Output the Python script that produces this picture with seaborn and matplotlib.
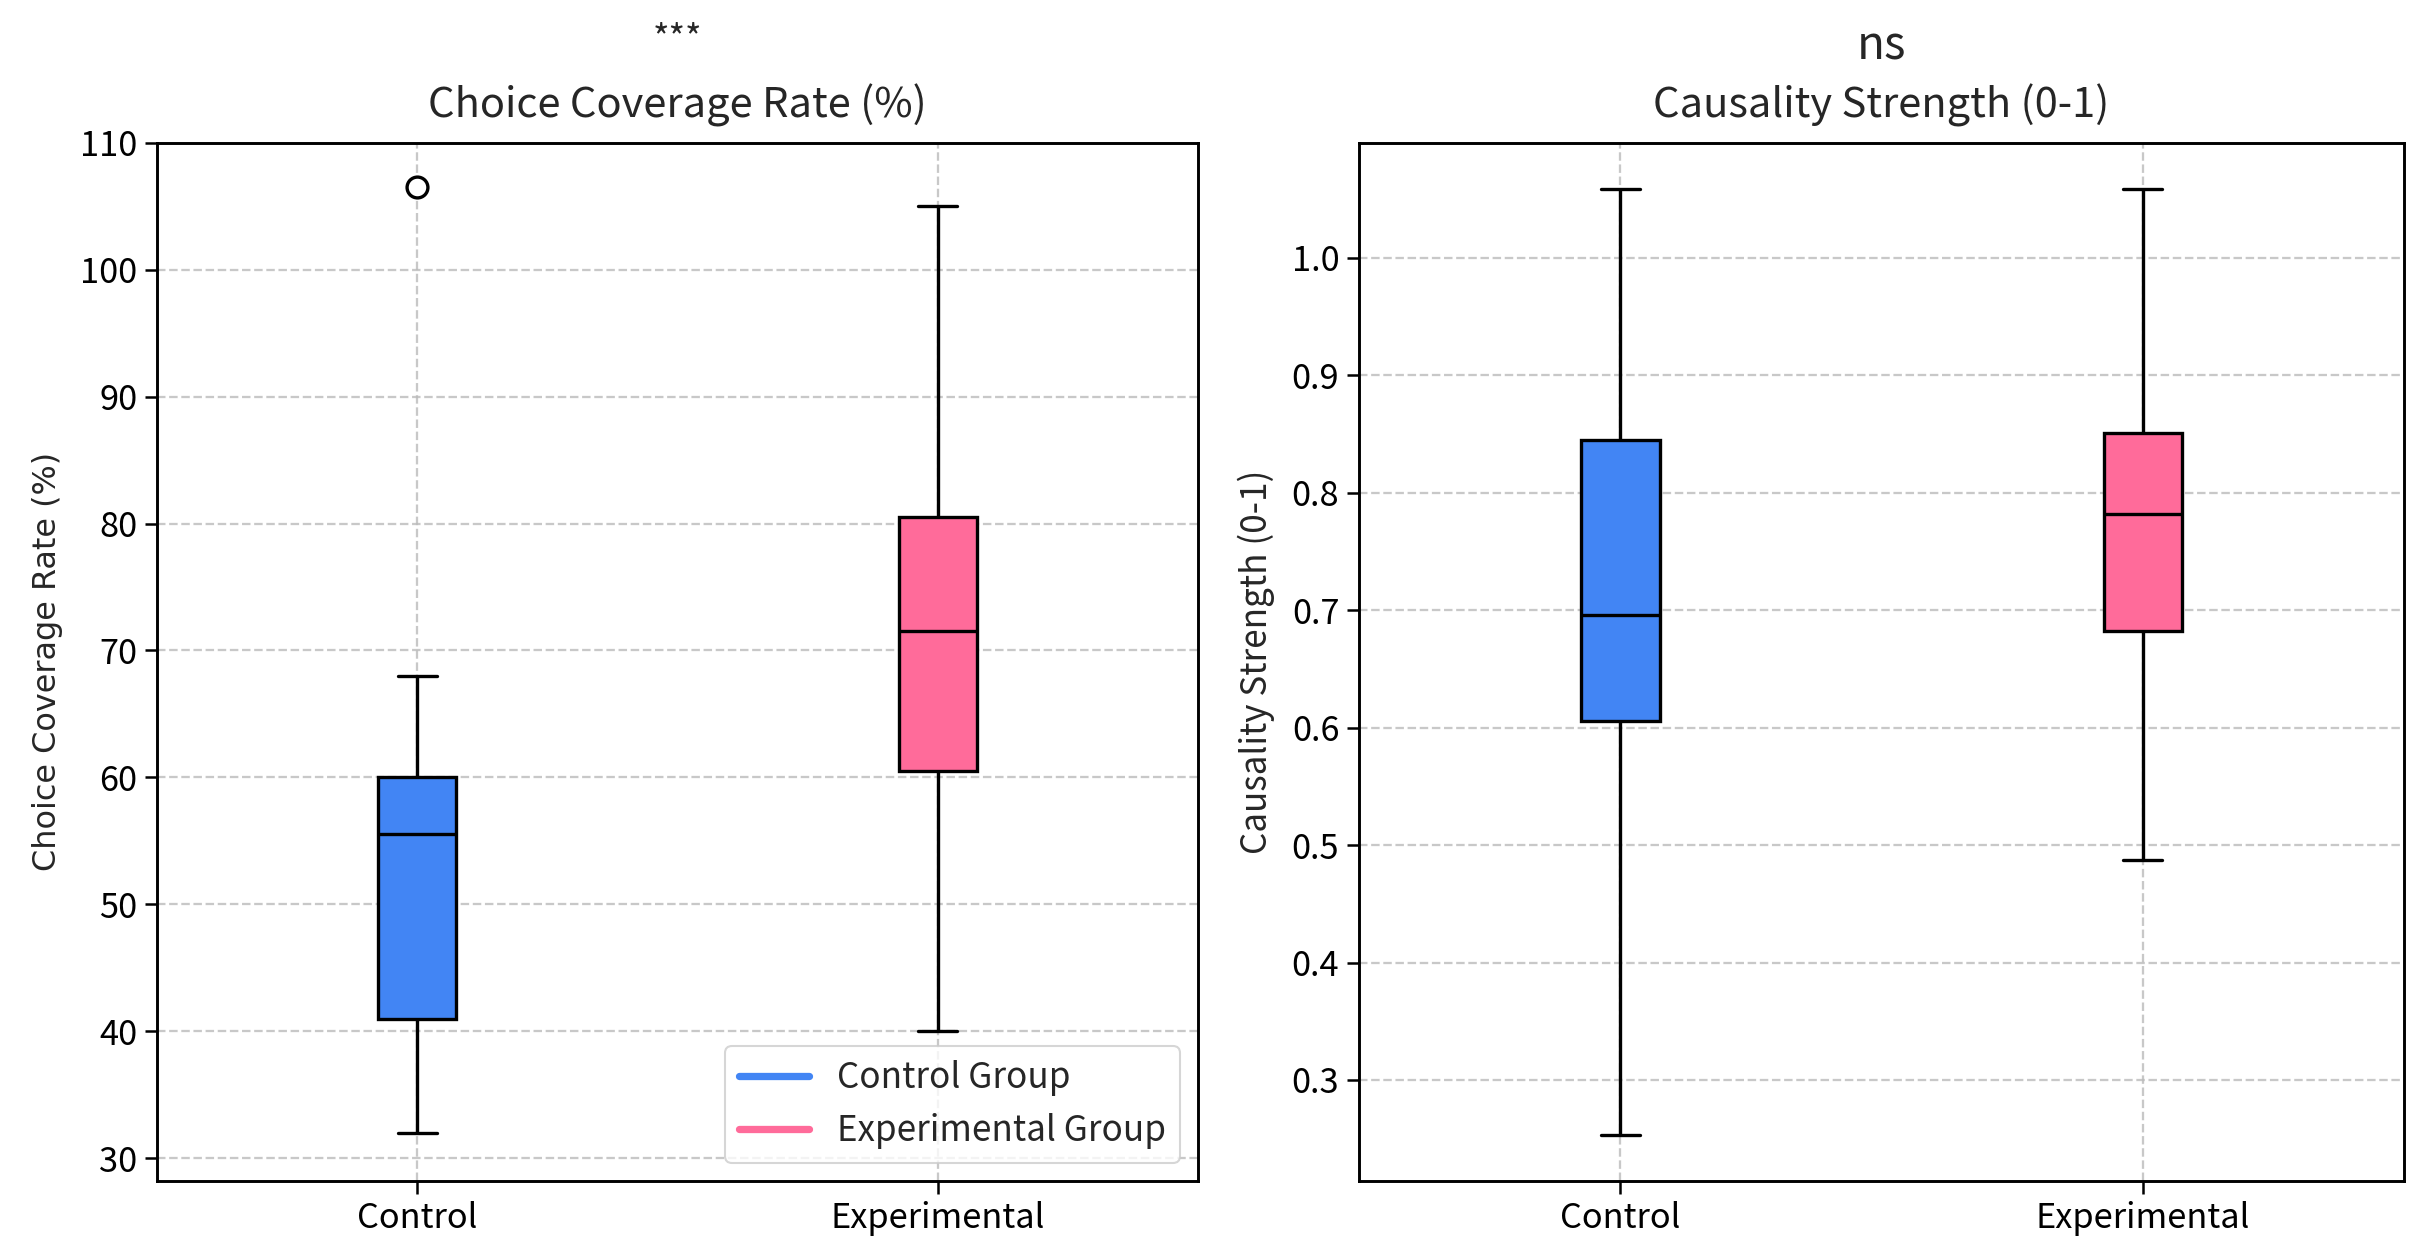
import matplotlib
matplotlib.use('Agg')
import pandas as pd
import numpy as np
import matplotlib.pyplot as plt
import seaborn as sns
from matplotlib.lines import Line2D

# group names and values (sorted samples chosen so the quartiles / whiskers match the picture)
groups = ["Control", "Experimental"]
coverage_control = [32.0, 38.0, 41.0, 48.0, 55.5, 58.0, 60.0, 68.0, 106.5]
coverage_experimental = [40.0, 52.0, 60.5, 66.0, 71.5, 76.0, 80.5, 92.0, 105.0]
causality_control = [0.253, 0.45, 0.606, 0.65, 0.696, 0.78, 0.845, 0.95, 1.059]
causality_experimental = [0.487, 0.60, 0.682, 0.73, 0.782, 0.82, 0.851, 0.95, 1.059]

coverage_ticks = [30, 40, 50, 60, 70, 80, 90, 100, 110]
causality_ticks = [0.3, 0.4, 0.5, 0.6, 0.7, 0.8, 0.9, 1.0]

colors = ["#4285F4", "#FF6B9A"]
legend_labels = ["Control Group", "Experimental Group"]

sns.set_style("white")
plt.rcParams['font.family'] = ['Noto Sans CJK SC', 'DejaVu Sans']
plt.rcParams['font.weight'] = 'medium'


def make_frame(ctrl, exp):
    return pd.DataFrame({
        "group": [groups[0]] * len(ctrl) + [groups[1]] * len(exp),
        "value": list(ctrl) + list(exp),
    })


def draw_box(ax, df):
    sns.boxplot(
        data=df, x="group", y="value", hue="group", palette=colors,
        width=0.15, linecolor="black", linewidth=1.6, ax=ax, legend=False,
        flierprops=dict(marker="o", markerfacecolor="white", markeredgecolor="black",
                        markersize=10, markeredgewidth=1.6),
        saturation=1,
    )
    ax.grid(True, linestyle="--", color="#bbbbbb", alpha=0.8, linewidth=1.1)
    ax.set_axisbelow(True)
    for sp in ax.spines.values():
        sp.set_color("black")
        sp.set_linewidth(1.4)
    ax.tick_params(axis="both", which="both", direction="out", length=6, width=1.2,
                   colors="black", labelsize=16.5, bottom=True, left=True)
    ax.set_xlabel("")
    ax.set_xlim(-0.5, 1.5)


fig = plt.figure(figsize=(16.2, 8.4), dpi=150)
ax1 = fig.add_axes([0.0646, 0.0627, 0.4284, 0.824])
ax2 = fig.add_axes([0.5593, 0.0627, 0.4300, 0.824])

# left panel
draw_box(ax1, make_frame(coverage_control, coverage_experimental))
ax1.set_ylim(28.2, 110)
ax1.set_yticks(coverage_ticks)
ax1.set_ylabel("Choice Coverage Rate (%)", fontsize=15.3, family="DejaVu Sans",
               fontweight="normal", labelpad=8)
ax1.set_title("Choice Coverage Rate (%)", fontsize=20, pad=12)
ax1.text(0.5, 1.1, "***", transform=ax1.transAxes, ha="center", va="center", fontsize=17)

handles = [Line2D([0], [0], color=c, linewidth=3.5) for c in colors]
leg = ax1.legend(handles, legend_labels, loc="lower right", fontsize=16.8,
                 frameon=True, fancybox=True, borderaxespad=0.5, handlelength=2.0)
leg.get_frame().set_edgecolor("#cccccc")

# right panel
draw_box(ax2, make_frame(causality_control, causality_experimental))
ax2.set_ylim(0.214, 1.098)
ax2.set_yticks(causality_ticks)
ax2.set_yticklabels([f"{t:.1f}" for t in causality_ticks])
ax2.set_ylabel("Causality Strength (0-1)", fontsize=16.8, labelpad=8)
ax2.set_title("Causality Strength (0-1)", fontsize=20, pad=12)
ax2.text(0.5, 1.093, "ns", transform=ax2.transAxes, ha="center", va="center", fontsize=22)

fig.savefig("out.png", dpi=150)
plt.close()
